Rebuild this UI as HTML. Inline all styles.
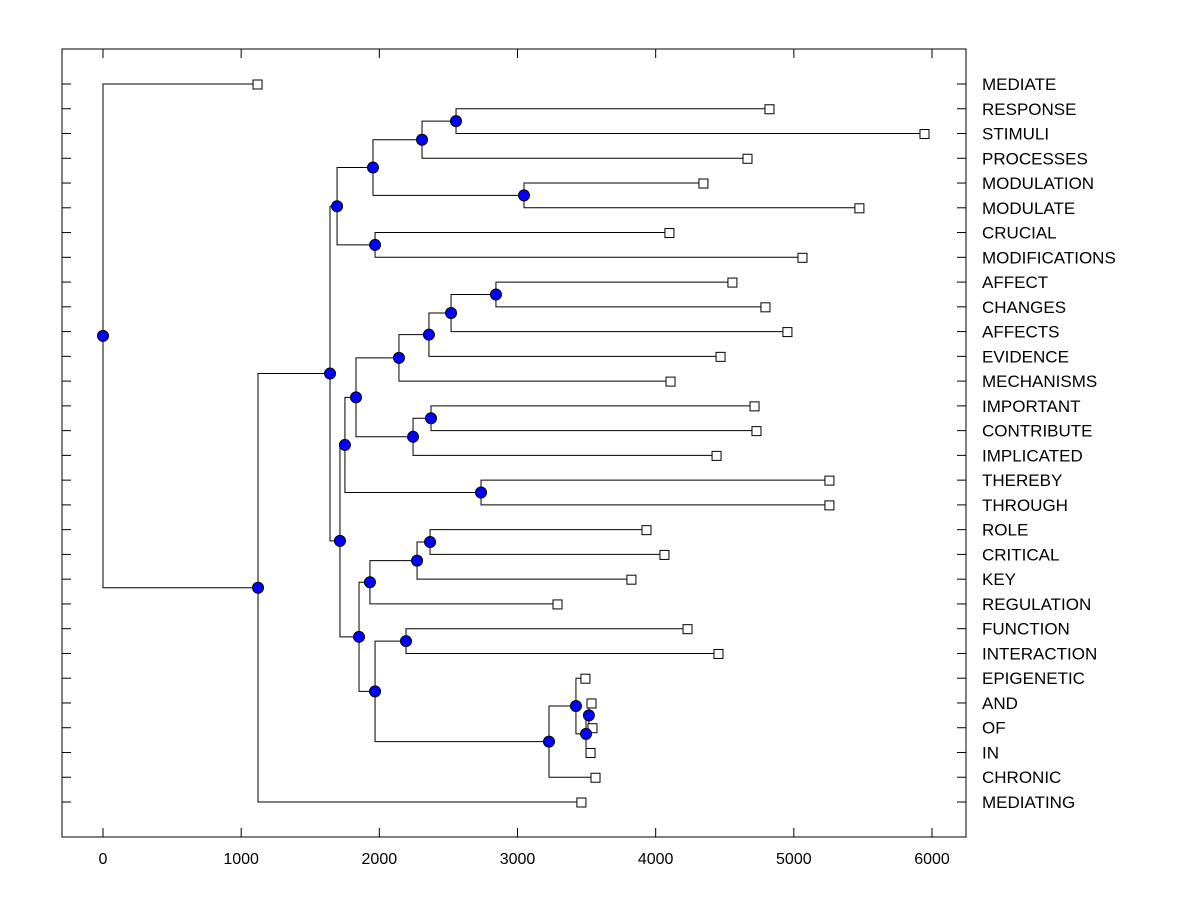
<!DOCTYPE html>
<html><head><meta charset="utf-8"><style>
html,body{margin:0;padding:0;background:#fff;}
svg{display:block;font-family:"Liberation Sans",Arial,sans-serif;}
</style></head><body>
<svg id="chart" width="1200" height="900" viewBox="0 0 1200 900"></svg>
<script>
const leafNames = ["MEDIATE","RESPONSE","STIMULI","PROCESSES","MODULATION","MODULATE","CRUCIAL","MODIFICATIONS","AFFECT","CHANGES","AFFECTS","EVIDENCE","MECHANISMS","IMPORTANT","CONTRIBUTE","IMPLICATED","THEREBY","THROUGH","ROLE","CRITICAL","KEY","REGULATION","FUNCTION","INTERACTION","EPIGENETIC","AND","OF","IN","CHRONIC","MEDIATING"];
const leafHeights = [1115,4820,5942,4661,4342,5471,4096,5059,4552,4791,4950,4466,4104,4712,4726,4437,5254,5254,3930,4060,3821,3286,4227,4451,3488,3532,3539,3525,3561,3459];
const mergeChildren = [
 ["L1","L2"],["N0","L3"],["L4","L5"],["N1","N2"],["L6","L7"],["N3","N4"],
 ["L8","L9"],["N6","L10"],["N7","L11"],["N8","L12"],["L13","L14"],["N10","L15"],
 ["N9","N11"],["L16","L17"],["N12","N13"],["L18","L19"],["N15","L20"],["N16","L21"],
 ["L22","L23"],["L25","L26"],["N19","L27"],["L24","N20"],["N21","L28"],["N18","N22"],
 ["N17","N23"],["N14","N24"],["N5","N25"],["N26","L29"],["L0","N27"]
];
const mergeHeights = [2555,2309,3047,1954,1969,1694,2844,2519,2359,2142,2374,2244,1831,2736,1751,2367,2273,1932,2193,3517,3496,3423,3228,1969,1853,1715,1643,1122,0];
const xTicks = [0,1000,2000,3000,4000,5000,6000];

const svg = document.getElementById('chart');
const NS = "http://www.w3.org/2000/svg";
const L = 62, R = 966, T = 49, B = 837;
const xS = v => 103 + v * (932 - 103) / 6000;
const yS = i => 84 + i * (802 - 84) / 29;
function mk(tag, attrs, parent) {
  const e = document.createElementNS(NS, tag);
  for (const k in attrs) e.setAttribute(k, attrs[k]);
  (parent || svg).appendChild(e);
  return e;
}
const frame = mk('rect', {x:L, y:T, width:R-L, height:B-T, fill:'none', stroke:'#000', 'stroke-width':1});



xTicks.forEach(v => {
  const x = xS(v);
  mk('line', {x1:x, y1:B, x2:x, y2:B-9, stroke:'#000'});
  mk('line', {x1:x, y1:T, x2:x, y2:T+9, stroke:'#000'});
  const t = mk('text', {x:x, y:864, 'text-anchor':'middle', 'font-size':16, fill:'#000'});
  t.textContent = v;
  
  
});
leafNames.forEach((n, i) => {
  const y = yS(i);
  mk('line', {x1:L, y1:y, x2:L+9, y2:y, stroke:'#000'});
  mk('line', {x1:R, y1:y, x2:R-9, y2:y, stroke:'#000'});
  const t = mk('text', {x:982, y:y+6, 'font-size':17, fill:'#000'});
  t.textContent = n;
  
  
});

const pos = {};
leafHeights.forEach((h, i) => { pos['L'+i] = {x:xS(h), y:yS(i)}; });
const g = mk('g', {stroke:'#000', fill:'none', 'stroke-width':1});


const dots = [];
mergeChildren.forEach((c, k) => {
  const a = pos[c[0]], b = pos[c[1]];
  const x = xS(mergeHeights[k]);
  mk('path', {d:`M${a.x},${a.y}H${x}V${b.y}H${b.x}`}, g);
  pos['N'+k] = {x:x, y:(a.y+b.y)/2};
  dots.push(pos['N'+k]);
});
leafHeights.forEach((h, i) => {
  const p = pos['L'+i];
  const s = mk('rect', {x:p.x-4, y:p.y-4, width:9, height:9, fill:'#fff', stroke:'#000'});
  
  
});
dots.forEach(p => {
  const c = mk('circle', {cx:p.x, cy:p.y, r:5.5, fill:'#0000ff', stroke:'#000', 'stroke-width':1});
  
  
});
</script>
</body></html>
